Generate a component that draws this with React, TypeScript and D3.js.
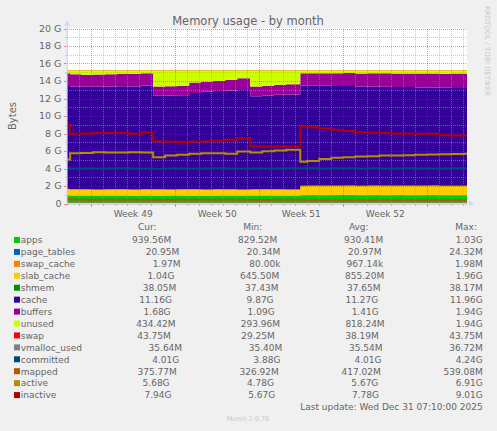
import React, { useEffect, useRef } from 'react';
import * as d3 from 'd3';

// sample times (2h-ish munin month data, condensed to the visible steps)
const sampleTimes = [
  '2025-11-27 23:50', '2025-11-28 06:00', '2025-11-29 04:00', '2025-11-30 04:00', '2025-12-01 04:00',
  '2025-12-02 04:00', '2025-12-03 04:00', '2025-12-04 04:00', '2025-12-05 04:00', '2025-12-06 04:00',
  '2025-12-07 04:00', '2025-12-08 04:00', '2025-12-09 04:00', '2025-12-10 04:00', '2025-12-11 04:00',
  '2025-12-12 04:00', '2025-12-13 06:00', '2025-12-14 06:00', '2025-12-15 06:00', '2025-12-16 06:00',
  '2025-12-17 10:00', '2025-12-18 00:00', '2025-12-19 00:00', '2025-12-20 00:00', '2025-12-21 00:00',
  '2025-12-22 00:00', '2025-12-23 00:00', '2025-12-24 00:00', '2025-12-25 00:00', '2025-12-26 00:00',
  '2025-12-27 00:00', '2025-12-28 00:00', '2025-12-29 00:00', '2025-12-30 00:00', '2025-12-31 00:00',
  '2025-12-31 07:10',
];

// values in GiB
const apps = [0.92, 0.90, 0.89, 0.88, 0.90, 0.88, 0.87, 0.89, 0.88, 0.90, 0.89, 0.88, 0.87, 0.89, 0.90, 0.88, 0.89, 0.90, 0.88, 0.89, 0.95, 0.96, 0.95, 0.96, 0.97, 0.95, 0.96, 0.95, 0.96, 0.95, 0.94, 0.96, 0.95, 0.94, 0.94, 0.94];
const pageTables = [0.021, 0.020, 0.020, 0.021, 0.020, 0.021, 0.021, 0.020, 0.020, 0.021, 0.021, 0.020, 0.021, 0.021, 0.020, 0.021, 0.020, 0.021, 0.021, 0.020, 0.022, 0.021, 0.021, 0.022, 0.021, 0.021, 0.020, 0.021, 0.021, 0.022, 0.021, 0.021, 0.020, 0.021, 0.021, 0.021];
const swapCache = [0.001, 0.001, 0.0009, 0.001, 0.0008, 0.001, 0.001, 0.0009, 0.001, 0.001, 0.0009, 0.001, 0.001, 0.001, 0.0009, 0.001, 0.001, 0.0009, 0.001, 0.001, 0.001, 0.0009, 0.001, 0.001, 0.001, 0.0009, 0.001, 0.001, 0.001, 0.0009, 0.001, 0.001, 0.0019, 0.002, 0.002, 0.002];
const slabCache = [0.70, 0.68, 0.69, 0.66, 0.68, 0.70, 0.67, 0.68, 0.69, 0.66, 0.68, 0.70, 0.67, 0.69, 0.68, 0.66, 0.69, 0.68, 0.70, 0.67, 1.02, 1.03, 1.04, 1.03, 1.04, 1.03, 1.05, 1.04, 1.03, 1.04, 1.05, 1.04, 1.03, 1.04, 1.04, 1.04];
const shmem = [0.038, 0.037, 0.037, 0.038, 0.037, 0.038, 0.038, 0.037, 0.037, 0.038, 0.037, 0.038, 0.038, 0.037, 0.038, 0.037, 0.037, 0.038, 0.038, 0.037, 0.038, 0.038, 0.037, 0.038, 0.038, 0.038, 0.037, 0.038, 0.038, 0.038, 0.037, 0.038, 0.038, 0.038, 0.038, 0.038];
const cache = [11.75, 11.72, 11.70, 11.74, 11.72, 11.75, 11.76, 11.85, 10.70, 10.72, 10.75, 11.00, 11.20, 11.22, 11.28, 11.36, 10.62, 10.70, 10.80, 10.85, 11.45, 11.42, 11.40, 11.38, 11.36, 11.33, 11.31, 11.30, 11.27, 11.25, 11.22, 11.20, 11.18, 11.17, 11.16, 11.16];
const buffers = [1.45, 1.40, 1.38, 1.40, 1.42, 1.44, 1.45, 1.42, 1.03, 1.05, 1.06, 1.18, 1.10, 1.14, 1.20, 1.35, 1.10, 1.12, 1.14, 1.16, 1.40, 1.42, 1.44, 1.46, 1.48, 1.50, 1.52, 1.53, 1.55, 1.56, 1.58, 1.60, 1.62, 1.64, 1.66, 1.68];
const unused = [0.34, 0.46, 0.50, 0.48, 0.44, 0.39, 0.41, 0.32, 1.86, 1.83, 1.78, 1.40, 1.32, 1.22, 1.10, 0.91, 1.86, 1.76, 1.64, 1.59, 0.34, 0.33, 0.33, 0.33, 0.31, 0.35, 0.32, 0.34, 0.35, 0.36, 0.37, 0.36, 0.38, 0.37, 0.36, 0.43];
const swap = [0.029, 0.029, 0.029, 0.029, 0.029, 0.029, 0.029, 0.029, 0.029, 0.029, 0.029, 0.038, 0.039, 0.039, 0.040, 0.040, 0.041, 0.041, 0.041, 0.042, 0.042, 0.042, 0.043, 0.043, 0.043, 0.043, 0.043, 0.044, 0.044, 0.044, 0.044, 0.044, 0.044, 0.044, 0.044, 0.044];

const vmallocUsed = [0.0355, 0.0354, 0.0355, 0.0355, 0.0356, 0.0355, 0.0354, 0.0355, 0.0355, 0.0356, 0.0355, 0.0355, 0.0354, 0.0355, 0.0356, 0.0355, 0.0355, 0.0355, 0.0356, 0.0355, 0.0357, 0.0356, 0.0356, 0.0357, 0.0356, 0.0356, 0.0357, 0.0356, 0.0356, 0.0357, 0.0356, 0.0356, 0.0357, 0.0356, 0.0356, 0.0356];
const committed = [4.02, 4.00, 4.01, 3.99, 4.00, 4.02, 4.01, 4.00, 3.98, 3.99, 4.00, 4.01, 4.00, 4.02, 4.01, 4.00, 3.99, 4.00, 4.01, 4.02, 4.03, 4.02, 4.01, 4.02, 4.03, 4.01, 4.02, 4.00, 4.01, 4.02, 4.01, 4.00, 4.01, 4.02, 4.01, 4.01];
const mapped = [0.52, 0.45, 0.44, 0.43, 0.44, 0.43, 0.42, 0.44, 0.41, 0.42, 0.43, 0.42, 0.44, 0.43, 0.42, 0.43, 0.40, 0.41, 0.42, 0.43, 0.38, 0.38, 0.37, 0.38, 0.38, 0.37, 0.38, 0.38, 0.37, 0.38, 0.38, 0.37, 0.38, 0.38, 0.38, 0.38];
const active = [5.03, 5.75, 5.78, 5.86, 5.84, 5.82, 5.86, 5.84, 5.29, 5.49, 5.56, 5.68, 5.75, 5.75, 5.70, 5.94, 5.83, 5.98, 6.06, 6.13, 4.78, 4.86, 5.10, 5.22, 5.29, 5.37, 5.41, 5.49, 5.48, 5.52, 5.56, 5.60, 5.64, 5.66, 5.68, 5.68];
const inactive = [9.00, 7.96, 8.00, 8.07, 8.05, 8.06, 7.96, 8.12, 7.12, 7.05, 7.04, 7.10, 7.12, 7.16, 7.28, 7.45, 6.51, 6.50, 6.52, 6.52, 8.80, 8.72, 8.58, 8.42, 8.28, 8.15, 8.10, 8.05, 8.00, 7.98, 7.97, 7.96, 7.80, 7.78, 7.80, 7.80];

const yTickValues = [0, 2, 4, 6, 8, 10, 12, 14, 16, 18, 20];
const yTickLabels = ['0', '2 G', '4 G', '6 G', '8 G', '10 G', '12 G', '14 G', '16 G', '18 G', '20 G'];
const weekLabels = ['Week 49', 'Week 50', 'Week 51', 'Week 52'];

const legendNames = ['apps', 'page_tables', 'swap_cache', 'slab_cache', 'shmem', 'cache', 'buffers', 'unused', 'swap', 'vmalloc_used', 'committed', 'mapped', 'active', 'inactive'];
const legendColors = ['#00CC00', '#0066B3', '#FF8000', '#FFCC00', '#008F00', '#330099', '#990099', '#CCFF00', '#FF0000', '#808080', '#00487D', '#B35A00', '#B38F00', '#B30000'];
const curValues = ['939.56M', '20.95M', '1.97M', '1.04G', '38.05M', '11.16G', '1.68G', '434.42M', '43.75M', '35.64M', '4.01G', '375.77M', '5.68G', '7.94G'];
const minValues = ['829.52M', '20.34M', '80.00k', '645.50M', '37.43M', '9.87G', '1.09G', '293.96M', '29.25M', '35.40M', '3.88G', '326.92M', '4.78G', '5.67G'];
const avgValues = ['930.41M', '20.97M', '967.14k', '855.20M', '37.65M', '11.27G', '1.41G', '818.24M', '38.19M', '35.54M', '4.01G', '417.02M', '5.67G', '7.78G'];
const maxValues = ['1.03G', '24.32M', '1.98M', '1.96G', '38.17M', '11.96G', '1.94G', '1.94G', '43.75M', '36.72M', '4.24G', '539.08M', '6.91G', '9.01G'];

const stackSeries = [apps, pageTables, swapCache, slabCache, shmem, cache, buffers, unused, swap];
const lineSeries = [vmallocUsed, committed, mapped, active, inactive];

const W = 497;
const H = 431;
const FONT = "'DejaVu Sans', sans-serif";
const TEXT = '#666666';

const MemoryByMonth = () => {
  const svgRef = useRef<SVGSVGElement | null>(null);

  useEffect(() => {
    if (!svgRef.current) return;
    document.body.style.margin = '0';
    const svg = d3.select(svgRef.current);
    svg.selectAll('*').remove();

    const left = 67, right = 467, top = 28.5, bottom = 203.5;
    const parse = d3.timeParse('%Y-%m-%d %H:%M');
    const times = sampleTimes.map(t => parse(t) as Date);
    const x = d3.scaleTime().domain([times[0], times[times.length - 1]]).range([left, right]);
    const y = d3.scaleLinear().domain([0, 20]).range([bottom, top]);

    svg.append('rect').attr('width', W).attr('height', H).attr('fill', '#F0F0F0');
    svg.append('rect')
      .attr('x', left).attr('y', top)
      .attr('width', right - left).attr('height', bottom - top)
      .attr('fill', '#FFFFFF');

    // stacked areas
    const keys = stackSeries.map((_, i) => `s${i}`);
    const rows = times.map((t, i) => {
      const r: any = { t };
      stackSeries.forEach((s, k) => { r[`s${k}`] = s[i]; });
      return r;
    });
    const layers = d3.stack<any>().keys(keys)(rows);
    const area = d3.area<any>()
      .curve(d3.curveStepAfter)
      .x(d => x(d.data.t))
      .y0(d => y(d[0]))
      .y1(d => y(d[1]));
    svg.append('g').selectAll('path')
      .data(layers)
      .enter()
      .append('path')
      .attr('d', d => area(d as any) as string)
      .attr('fill', (_, i) => legendColors[i]);

    // grid
    const grid = svg.append('g').attr('shape-rendering', 'crispEdges');
    const minorCol = 'rgba(160,160,160,0.55)';
    const majorCol = 'rgba(255,0,0,0.45)';
    const days = d3.timeDay.range(times[0], times[times.length - 1]).filter(d => d.getDay() !== 0);
    const sundays = d3.timeSunday.range(times[0], times[times.length - 1]);
    days.forEach(d => {
      const xx = Math.round(x(d)) + 0.5;
      grid.append('line').attr('x1', xx).attr('x2', xx).attr('y1', top).attr('y2', bottom)
        .attr('stroke', minorCol).attr('stroke-dasharray', '1,1');
      grid.append('line').attr('x1', xx).attr('x2', xx).attr('y1', bottom).attr('y2', bottom + 2)
        .attr('stroke', minorCol);
    });
    d3.range(1, 20, 2).forEach(v => {
      const yy = Math.round(y(v)) + 0.5;
      grid.append('line').attr('x1', left).attr('x2', right).attr('y1', yy).attr('y2', yy)
        .attr('stroke', minorCol).attr('stroke-dasharray', '1,1');
      grid.append('line').attr('x1', left - 2).attr('x2', left).attr('y1', yy).attr('y2', yy)
        .attr('stroke', minorCol);
    });
    sundays.forEach(d => {
      const xx = Math.round(x(d)) + 0.5;
      grid.append('line').attr('x1', xx).attr('x2', xx).attr('y1', top).attr('y2', bottom)
        .attr('stroke', majorCol).attr('stroke-dasharray', '1,1');
      grid.append('line').attr('x1', xx).attr('x2', xx).attr('y1', bottom).attr('y2', bottom + 3)
        .attr('stroke', majorCol);
    });
    yTickValues.forEach(v => {
      const yy = Math.round(y(v)) + 0.5;
      if (v > 0) {
        grid.append('line').attr('x1', left).attr('x2', right).attr('y1', yy).attr('y2', yy)
          .attr('stroke', majorCol).attr('stroke-dasharray', '1,1');
      }
      grid.append('line').attr('x1', left - 3).attr('x2', left).attr('y1', yy).attr('y2', yy)
        .attr('stroke', majorCol);
    });

    // lines
    const lineColors = legendColors.slice(stackSeries.length);
    const line = d3.line<number>()
      .curve(d3.curveStepAfter)
      .x((_, i) => x(times[i]))
      .y(d => y(d));
    lineSeries.forEach((s, i) => {
      svg.append('path')
        .attr('d', line(s) as string)
        .attr('fill', 'none')
        .attr('stroke', lineColors[i])
        .attr('stroke-width', 2);
    });

    // axes
    const axisCol = '#CFD6F8';
    svg.append('line').attr('x1', left).attr('x2', right + 3).attr('y1', bottom).attr('y2', bottom)
      .attr('stroke', axisCol);
    svg.append('line').attr('x1', left).attr('x2', left).attr('y1', bottom).attr('y2', top - 4)
      .attr('stroke', axisCol);
    svg.append('path')
      .attr('d', `M${right + 2},${bottom - 3}L${right + 7},${bottom}L${right + 2},${bottom + 3}Z`)
      .attr('fill', axisCol);
    svg.append('path')
      .attr('d', `M${left - 3},${top - 3}L${left},${top - 8}L${left + 3},${top - 3}Z`)
      .attr('fill', axisCol);

    // y tick labels
    svg.append('g').selectAll('text')
      .data(yTickValues)
      .enter()
      .append('text')
      .attr('x', 61.5)
      .attr('y', d => y(d) + 3.4)
      .attr('text-anchor', 'end')
      .attr('font-family', FONT)
      .attr('font-size', 9.5)
      .attr('fill', TEXT)
      .text((_, i) => yTickLabels[i]);

    // week labels centred between week boundaries
    weekLabels.forEach((lab, i) => {
      const mid = (x(sundays[i]) + x(sundays[i + 1])) / 2;
      svg.append('text')
        .attr('x', mid).attr('y', 216.6)
        .attr('text-anchor', 'middle')
        .attr('font-family', FONT).attr('font-size', 9)
        .attr('fill', TEXT)
        .text(lab);
    });

    // title and side texts
    svg.append('text')
      .attr('x', 248).attr('y', 25)
      .attr('text-anchor', 'middle')
      .attr('font-family', FONT).attr('font-size', 11.5)
      .attr('fill', TEXT)
      .text('Memory usage - by month');
    svg.append('text')
      .attr('transform', 'translate(15.5,116) rotate(-90)')
      .attr('text-anchor', 'middle')
      .attr('font-family', FONT).attr('font-size', 10)
      .attr('fill', TEXT)
      .text('Bytes');
    svg.append('text')
      .attr('transform', 'translate(484.5,51) rotate(90)')
      .attr('text-anchor', 'middle')
      .attr('font-family', FONT).attr('font-size', 7)
      .attr('fill', '#C8C8C8')
      .text('RRDTOOL / TOBI OETIKER');

    // legend, justified like rrdtool's \j
    const ctx = document.createElement('canvas').getContext('2d') as CanvasRenderingContext2D;
    const legendSize = 9;
    ctx.font = `${legendSize}px ${FONT}`;
    const tw = (s: string) => ctx.measureText(s).width;
    const fmt = (s: string) => s.slice(0, -1).padStart(6, ' ') + s.slice(-1);
    const legL = 14, legR = 482.7, boxW = 6.7;
    const legend = svg.append('g')
      .attr('font-family', FONT)
      .attr('font-size', legendSize)
      .attr('fill', TEXT);
    const putText = (tx: number, cy: number, s: string) => {
      legend.append('text')
        .attr('x', tx).attr('y', cy + 3.3)
        .attr('xml:space', 'preserve')
        .style('white-space', 'pre')
        .text(s);
    };
    const justify = (cy: number, items: string[], lead: number) => {
      const widths = items.map(tw);
      const total = lead + d3.sum(widths);
      const gap = (legR - legL - total) / (items.length - 1);
      let cx = legL + lead;
      items.forEach((s, i) => {
        putText(cx, cy, s);
        cx += widths[i] + gap;
      });
    };

    justify(226.5, [' '.repeat(13), 'Cur:', 'Min:', 'Avg:', 'Max:  '], 0);
    legendNames.forEach((name, i) => {
      const cy = 240 + i * 11.93;
      legend.append('rect')
        .attr('x', legL).attr('y', cy - 3)
        .attr('width', 6).attr('height', 6)
        .attr('fill', legendColors[i]);
      justify(cy, [name.padEnd(12, ' '), fmt(curValues[i]), fmt(minValues[i]), fmt(avgValues[i]), fmt(maxValues[i])], boxW);
    });
    legend.append('text')
      .attr('x', legR).attr('y', 240 + 14 * 11.93 + 3.3)
      .attr('text-anchor', 'end')
      .text('Last update: Wed Dec 31 07:10:00 2025');

    svg.append('text')
      .attr('x', 248).attr('y', 420.6)
      .attr('text-anchor', 'middle')
      .attr('font-family', FONT).attr('font-size', 6.5)
      .attr('fill', '#C8C8C8')
      .text('Munin 2.0.76');
  }, []);

  return <svg ref={svgRef} width={W} height={H} style={{ display: 'block' }} />;
};

export default function App() {
  return <MemoryByMonth />;
}
